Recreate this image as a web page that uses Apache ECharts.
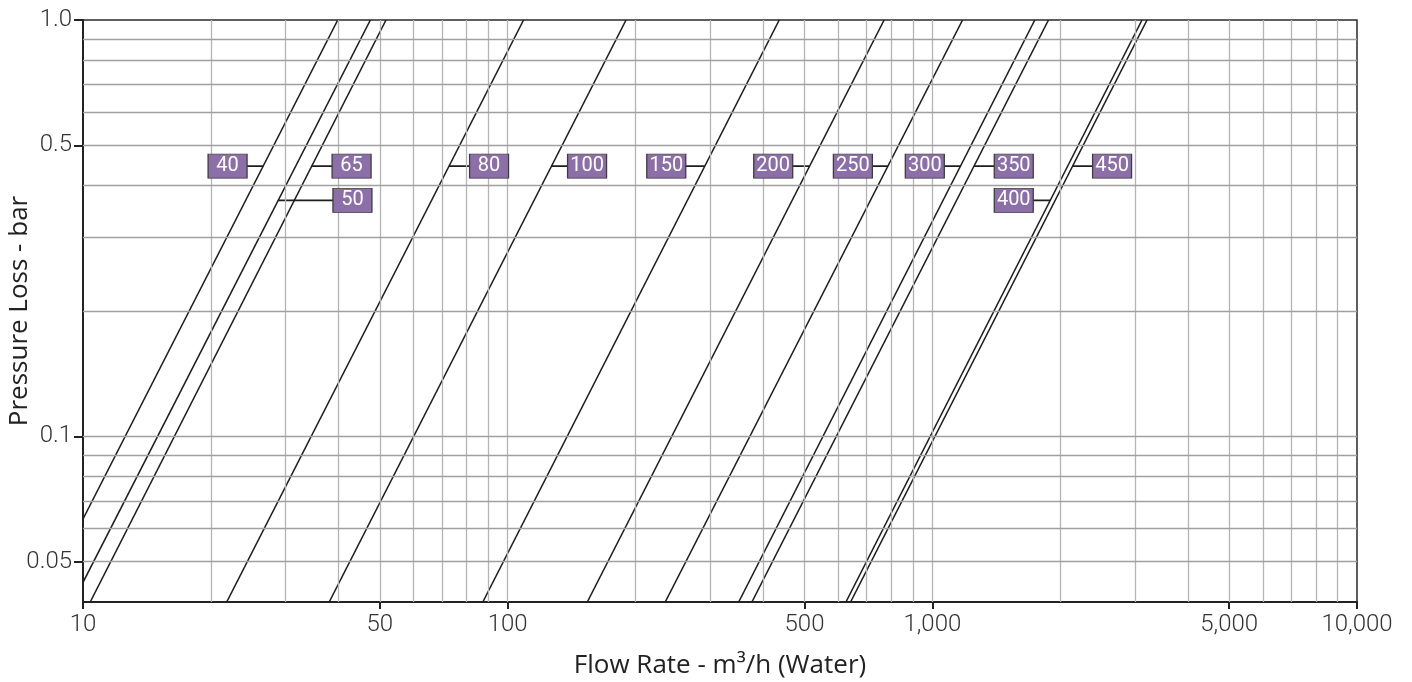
<!DOCTYPE html>
<html>
<head>
<meta charset="utf-8">
<script src="https://cdn.jsdelivr.net/npm/echarts@6/dist/echarts.min.js"></script>
<style>
  html, body { margin: 0; padding: 0; background: #fff; }
  #chart { width: 1412px; height: 682px; }
</style>
</head>
<body>
<div id="chart"></div>
<script>
// valve sizes (one line each)
const sizes = ['40', '50', '65', '80', '100', '150', '200', '250', '300', '350', '400', '450'];
// flow (m3/h) where each line reaches 1.0 bar
const flowAtTop = [39.8, 47.5, 51.7, 109, 190, 436, 770, 1178, 1743, 1877, 3117, 3203];
// lower end of each line
const flowAtLow = [10, 10, 10.4, 21.8, 38.0, 87.4, 154, 235, 350, 376, 626, 642];
const pressureAtLow = [0.0633, 0.0446, 0.04, 0.04, 0.04, 0.04, 0.04, 0.04, 0.04, 0.04, 0.04, 0.04];

// label boxes: flow at box centre, pressure row
const labelFlow = [21.9, 43.1, 42.9, 90.4, 153.8, 236.3, 422, 650, 960, 1555, 1555, 2650];
const labelPressure = [0.4456, 0.3687, 0.4456, 0.4456, 0.4456, 0.4456, 0.4456, 0.4456, 0.4456, 0.4456, 0.3687, 0.4456];

// ticks and grid
const xTicks = [10, 50, 100, 500, 1000, 5000, 10000];
const yTicks = [0.05, 0.1, 0.5, 1.0];
const xGrid = [20, 30, 40, 50, 60, 70, 80, 90, 100, 200, 300, 400, 500, 600, 700, 800, 900,
  1000, 2000, 3000, 4000, 5000, 6000, 7000, 8000, 9000];
const yGrid = [0.05, 0.06, 0.07, 0.08, 0.09, 0.1, 0.2, 0.3, 0.4, 0.5, 0.6, 0.7, 0.8, 0.9];

const chart = echarts.init(document.getElementById('chart'));

// where a line sits at a given pressure (straight in log-log space)
function flowOnLine(i, p) {
  const lq0 = Math.log10(flowAtLow[i]), lq1 = Math.log10(flowAtTop[i]);
  const lp0 = Math.log10(pressureAtLow[i]), lp1 = 0;
  const t = (Math.log10(p) - lp0) / (lp1 - lp0);
  return Math.pow(10, lq0 + t * (lq1 - lq0));
}

const series = [];

// grid lines
series.push({
  type: 'line',
  data: [],
  silent: true,
  z: 1,
  markLine: {
    silent: true,
    symbol: 'none',
    label: { show: false },
    animation: false,
    data: xGrid.map(v => ({ xAxis: v, lineStyle: { color: '#b4b4b4', width: 1.3, type: 'solid' } }))
      .concat(yGrid.map(v => ({ yAxis: v, lineStyle: { color: '#a0a0a0', width: 1.3, type: 'solid' } })))
  }
});

sizes.forEach((s, i) => {
  series.push({
    name: s,
    type: 'line',
    data: [[flowAtLow[i], pressureAtLow[i]], [flowAtTop[i], 1.0]],
    symbol: 'none',
    silent: true,
    clip: true,
    z: 3,
    lineStyle: { color: '#1e1e1e', width: 1.6 }
  });
  // connector from line to the label box
  series.push({
    type: 'line',
    data: [[flowOnLine(i, labelPressure[i]), labelPressure[i]], [labelFlow[i], labelPressure[i]]],
    symbol: 'none',
    silent: true,
    z: 3,
    lineStyle: { color: '#1e1e1e', width: 1.6 }
  });
});

series.push({
  type: 'scatter',
  silent: true,
  z: 5,
  symbol: 'rect',
  symbolSize: [39, 24],
  data: sizes.map((s, i) => ({ value: [labelFlow[i], labelPressure[i]], name: s })),
  itemStyle: { color: '#8c6fa8', borderColor: '#3c3c3c', borderWidth: 1, opacity: 1 },
  label: {
    show: true,
    position: 'inside',
    formatter: p => p.name,
    color: '#ffffff',
    fontFamily: 'Roboto',
    fontWeight: 400,
    fontSize: 20
  }
});

chart.setOption({
  animation: false,
  backgroundColor: '#ffffff',
  grid: {
    left: 83, right: 55, top: 20, bottom: 80,
    containLabel: false,
    outerBoundsMode: 'none',
    show: true, borderColor: '#2a2a2a', borderWidth: 1.5
  },
  xAxis: {
    type: 'log',
    logBase: 10,
    min: 10,
    max: 10000,
    name: 'Flow Rate - m³/h (Water)',
    nameLocation: 'middle',
    nameGap: 51,
    nameMoveOverlap: false,
    nameTextStyle: { fontFamily: 'Open Sans', fontSize: 26, color: '#222' },
    axisLine: { lineStyle: { color: '#222', width: 2 } },
    axisTick: { customValues: xTicks, length: 7, lineStyle: { color: '#222', width: 2 } },
    axisLabel: {
      customValues: xTicks,
      formatter: v => Number(v).toLocaleString('en-US'),
      fontFamily: 'Roboto', fontWeight: 300, fontSize: 24, color: '#333', margin: 11
    },
    splitLine: { show: false },
    minorTick: { show: false },
    minorSplitLine: { show: false }
  },
  yAxis: {
    type: 'log',
    logBase: 10,
    min: 0.04,
    max: 1,
    name: 'Pressure Loss - bar',
    nameLocation: 'middle',
    nameGap: 50,
    nameMoveOverlap: false,
    nameTextStyle: { fontFamily: 'Open Sans', fontSize: 26, color: '#222' },
    axisLine: { lineStyle: { color: '#222', width: 2 } },
    axisTick: { customValues: yTicks, length: 9, lineStyle: { color: '#222', width: 2 } },
    axisLabel: {
      customValues: yTicks,
      formatter: v => (Number(v) === 1 ? '1.0' : String(Number(v))),
      fontFamily: 'Roboto', fontWeight: 300, fontSize: 24, color: '#333', margin: 11
    },
    splitLine: { show: false },
    minorTick: { show: false },
    minorSplitLine: { show: false }
  },
  series: series
});
</script>
</body>
</html>
